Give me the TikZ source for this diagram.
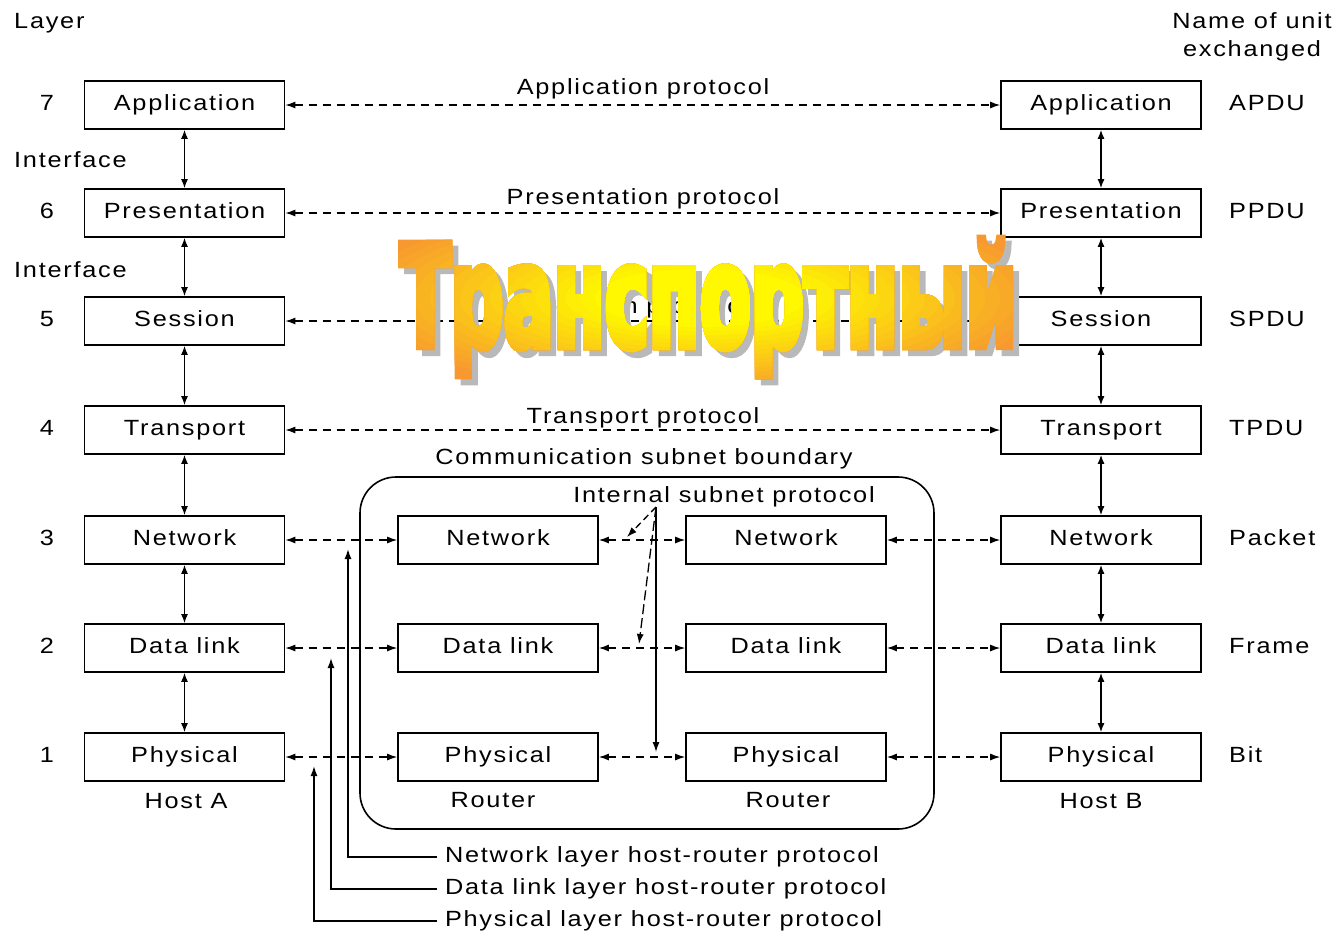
\documentclass[tikz,border=0pt]{standalone}
\usepackage{fontspec}
\usepackage{graphicx}
\usetikzlibrary{arrows.meta}
\setmainfont{Liberation Sans}[FakeStretch=1.15,LetterSpace=8]
\newfontfamily\wordfont{DejaVu Sans}[FakeBold=6]
\definecolor{artorange}{RGB}{247,152,48}
\definecolor{artyellow}{RGB}{255,248,0}
\definecolor{artshadow}{RGB}{185,185,185}

% the big banner word: squeezed to a fixed width, stretched upwards
\newcommand{\bannerword}{\resizebox{617pt}{1.40\height}{\wordfont\bfseries\fontsize{100}{100}\selectfont Транспортный}}

\begin{document}
\begin{tikzpicture}[x=1pt,y=-1pt,
  every node/.style={font=\fontsize{22}{24}\selectfont, inner sep=0pt},
  txt/.style={text height=16pt, text depth=5pt},
  layerbox/.style={txt, draw, line width=1.6pt, minimum width=200pt, minimum height=48pt},
  iface/.style={line width=1.5pt, {Latex[length=9pt,width=7pt]}-{Latex[length=9pt,width=7pt]}},
  proto/.style={line width=1.3pt, dash pattern=on 8pt off 6pt, {Latex[length=10pt,width=7pt]}-{Latex[length=10pt,width=7pt]}},
  fanarrow/.style={line width=1.3pt, -{Latex[length=10pt,width=7pt]}},
  hrline/.style={line width=1.4pt, -{Latex[length=10pt,width=7pt]}},
  hrlabel/.style={txt, anchor=west, outer xsep=8pt},
  bannerstyle/.style={anchor=base}
]
\useasboundingbox (0,0) rectangle (1341,935);

% column headings
\node[txt, anchor=west] (layerhead) at (14,23) {Layer};
\node[txt] (unithead1) at (1252,22.5) {Name of unit};
\node[txt] (unithead2) at (1252,50.5) {exchanged};

% host stacks, layer numbers and unit names
\foreach \n/\y/\t/\u in {7/105/Application/APDU, 6/213/Presentation/PPDU,
    5/321/Session/SPDU, 4/430/Transport/TPDU, 3/540/Network/Packet,
    2/648/Data link/Frame, 1/757/Physical/Bit} {
  \node[layerbox] (a\n) at (184.5,\y) {\t};
  \node[layerbox] (b\n) at (1101,\y) {\t};
  \node[txt] (num\n) at (47,\y) {\n};
  \node[txt, anchor=west] (unit\n) at (1229,\y) {\u};
}

% routers
\foreach \n/\y/\t in {3/540/Network, 2/648/Data link, 1/757/Physical} {
  \node[layerbox] (r\n) at (498,\y) {\t};
  \node[layerbox] (s\n) at (786,\y) {\t};
}

\node[txt, anchor=west] (if1) at (14,161.5) {Interface};
\node[txt, anchor=west] (if2) at (14,271.5) {Interface};

\node[txt] (hosta) at (186,802.5) {Host A};
\node[txt] (hostb) at (1101,802.5) {Host B};
\node[txt] (rt1) at (493,801.5) {Router};
\node[txt] (rt2) at (788,801.5) {Router};

% interfaces between adjacent layers
\foreach \i/\j in {7/6,6/5,5/4,4/3,3/2,2/1} {
  \draw[iface] (a\i) -- (a\j);
  \draw[iface] (b\i) -- (b\j);
}

% peer protocols of the upper layers
\foreach \n in {7,6,5,4} { \draw[proto] (a\n) -- (b\n); }
\node[txt] (p7) at (643,88.5) {Application protocol};
\node[txt] (p6) at (643,198.5) {Presentation protocol};
\node[txt] (p5) at (643,307.5) {Session protocol};
\node[txt] (p4) at (643,417.5) {Transport protocol};

% hop-by-hop protocols of the lower layers
\foreach \n in {3,2,1} {
  \draw[proto] (a\n) -- (r\n);
  \draw[proto] (r\n) -- (s\n);
  \draw[proto] (s\n) -- (b\n);
}

% communication subnet
\draw[line width=1.6pt, rounded corners=36pt] (360,477) rectangle (934,829);
\node[txt] (subnet) at (644,458.5) {Communication subnet boundary};
\node[txt] (internal) at (724,496.5) {Internal subnet protocol};

\coordinate (fan) at (656,507);
\coordinate (fan3) at (627,537);
\coordinate (fan2) at (639,644);
\coordinate (fan1) at (656,752);
\draw[fanarrow, dash pattern=on 7pt off 4pt] (fan) -- (fan3);
\draw[fanarrow, dash pattern=on 10pt off 4pt] (fan) -- (fan2);
\draw[fanarrow] (fan) -- (fan1);

% host-router protocol callouts
\node[hrlabel] (hr3) at (437,857) {Network layer host-router protocol};
\node[hrlabel] (hr2) at (437,889) {Data link layer host-router protocol};
\node[hrlabel] (hr1) at (437,921) {Physical layer host-router protocol};
\coordinate (hrt3) at (348,549);
\coordinate (hrt2) at (331,658);
\coordinate (hrt1) at (314,766);
\draw[hrline] (hr3.west) -| (hrt3);
\draw[hrline] (hr2.west) -| (hrt2);
\draw[hrline] (hr1.west) -| (hrt1);

% banner word: grey shadow, orange letters, then ever smaller
% elliptical clips in yellower tones for a radial glow
\coordinate (bannerbase) at (708.5,346);
\coordinate (bannermid) at (700,298);
\node[bannerstyle, text=artshadow] (bannershadow) at ([xshift=6pt,yshift=-6pt]bannerbase) {\bannerword};
\node[bannerstyle, text=artorange] (banner) at (bannerbase) {\bannerword};
\foreach \k in {1,...,22} {
  \pgfmathsetmacro\rx{360*(1-\k/24)}
  \pgfmathsetmacro\ry{100*(1-\k/24)}
  \pgfmathsetmacro\yp{min(100,100*\k/17)}
  \begin{scope}
    \clip (bannermid) ellipse [x radius=\rx, y radius=\ry];
    \node[bannerstyle, text=artyellow!\yp!artorange] (banner\k) at (bannerbase) {\bannerword};
  \end{scope}
}
\end{tikzpicture}
\end{document}
